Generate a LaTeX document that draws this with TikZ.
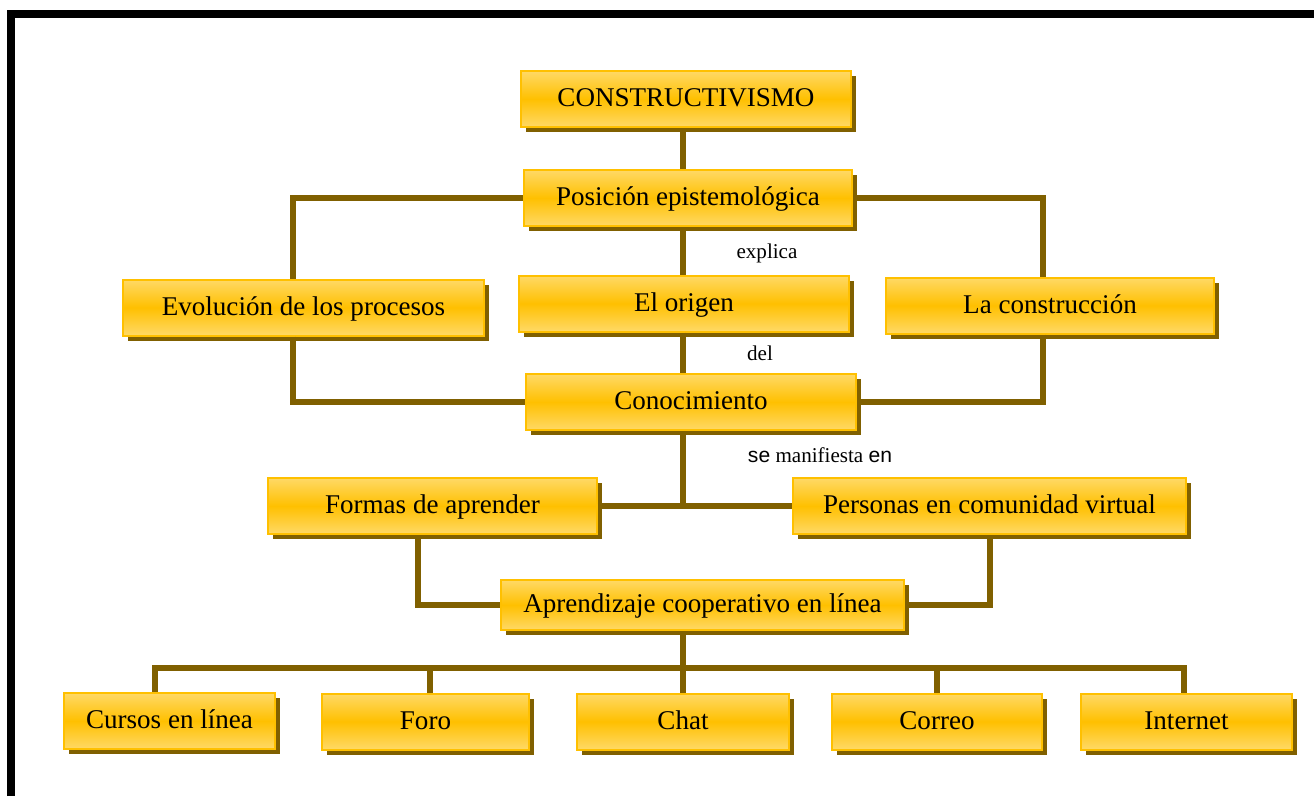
\documentclass[tikz,border=0pt]{standalone}
\usepackage{fontspec}
\setmainfont{Liberation Serif}
\newfontfamily\arialfont{Liberation Sans}
\usetikzlibrary{shadows}
\definecolor{cmlight}{RGB}{255,217,102}
\definecolor{cmgold}{RGB}{255,192,0}
\definecolor{cmbrown}{RGB}{128,96,0}

\begin{document}
\begin{tikzpicture}[x=0.02cm, y=-0.02cm,
    concept/.style={draw=cmgold, line width=0.04cm, top color=cmlight, bottom color=cmlight, middle color=cmgold,
        minimum height=1.12cm, inner sep=2pt, font=\fontsize{15.4}{18}\selectfont,
        text height=11pt, text depth=2pt,
        drop shadow={shadow xshift=0.1cm, shadow yshift=-0.1cm, fill=cmbrown, opacity=1}},
    link/.style={draw=cmbrown, line width=0.12cm},
    note/.style={font=\fontsize{12}{14}\selectfont, inner sep=1pt}]
    \useasboundingbox (0,0) rectangle (1314,796);
    % Frame
    \draw[line width=0.16cm] (11,796) -- (11,14) -- (1314,14);

    % Main components
    \node[concept, minimum width=6.6cm] (cons) at (686,99) {CONSTRUCTIVISMO};
    \node[concept, minimum width=6.58cm] (pos) at (688,198) {Posición epistemológica};
    \node[concept, minimum width=7.22cm] (evol) at (303.5,307.5) {Evolución de los procesos};
    \node[concept, minimum width=6.6cm] (orig) at (684,303.5) {El origen};
    \node[concept, minimum width=6.56cm] (constr) at (1050,305.5) {La construcción};
    \node[concept, minimum width=6.6cm] (conoc) at (691,402) {Conocimiento};
    \node[concept, minimum width=6.58cm] (formas) at (432.5,506) {Formas de aprender};
    \node[concept, minimum width=7.86cm] (pers) at (989.5,506) {Personas en comunidad virtual};
    \node[concept, minimum width=8.06cm, minimum height=1.0cm] (aprend) at (702.5,605) {Aprendizaje cooperativo en línea};
    \node[concept, minimum width=4.22cm] (cursos) at (169.5,721) {Cursos en línea};
    \node[concept, minimum width=4.14cm] (foro) at (425.5,721.5) {Foro};
    \node[concept, minimum width=4.24cm] (chat) at (683,721.5) {Chat};
    \node[concept, minimum width=4.2cm] (correo) at (937,721.5) {Correo};
    \node[concept, minimum width=4.22cm] (inter) at (1186.5,721.5) {Internet};

    % Labels
    \node[note] (explica) at (767,253) {explica};
    \node[note] (del) at (760,353) {del};
    \node[note] (manif) at (820,455) {{\arialfont se} manifiesta {\arialfont en}};

    % Connections
    \coordinate (trunk) at (683,0);
    \coordinate (busL) at (155,668);
    \coordinate (busR) at (1184,668);
    \draw[link] (cons.south -| trunk) -- (pos.north -| trunk);
    \draw[link] (pos.west) -| ([xshift=-0.22cm]evol.north);
    \draw[link] (pos.east) -| ([xshift=-0.14cm]constr.north);
    \draw[link] (pos.south -| trunk) -- (orig.north -| trunk);
    \draw[link] (orig.south -| trunk) -- (conoc.north -| trunk);
    \draw[link] ([xshift=-0.22cm]evol.south) |- (conoc.west);
    \draw[link] ([xshift=-0.14cm]constr.south) |- (conoc.east);
    \draw[link] (conoc.south -| trunk) -- (formas.east -| trunk);
    \draw[link] (formas.east) -- (pers.west);
    \draw[link] ([xshift=-0.29cm]formas.south) |- (aprend.west);
    \draw[link] (pers.south) |- (aprend.east);
    \draw[link] (aprend.south -| trunk) -- (busL -| trunk);
    \draw[link] (cursos.north -| busL) -- (busL) -- (busR) -- (inter.north -| busR);
    \draw[link] ([xshift=0.09cm]foro.north) -- ([xshift=0.09cm]foro.north |- busL);
    \draw[link] (chat.north) -- (chat.north |- busL);
    \draw[link] (correo.north) -- (correo.north |- busL);
\end{tikzpicture}
\end{document}
